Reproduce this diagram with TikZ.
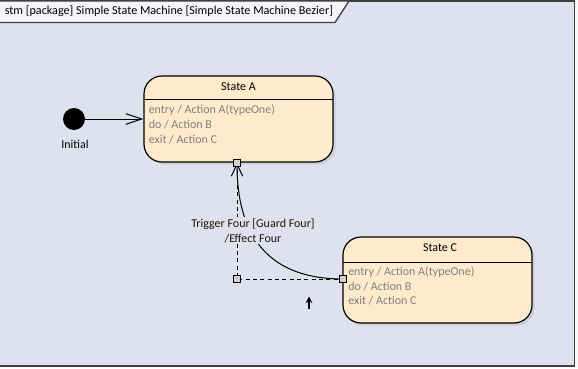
\documentclass[tikz,border=0pt]{standalone}
\usepackage{fontspec}
\setmainfont{Carlito}
\usetikzlibrary{arrows.meta,shadows}
\definecolor{bgc}{RGB}{223,226,238}
\definecolor{tabc}{RGB}{246,244,249}
\definecolor{statec}{RGB}{255,235,203}
\definecolor{graytext}{RGB}{128,128,128}
\definecolor{framec}{RGB}{64,64,64}
\definecolor{portc}{RGB}{208,208,208}
\tikzset{
  statebox/.style={draw=black, line width=0.9pt, fill=statec, rounded corners=13.5pt,
    minimum width=141.75pt, minimum height=64.5pt, inner sep=0pt,
    drop shadow={shadow xshift=2pt, shadow yshift=-2pt, opacity=0.25, fill=black!40}},
  hdr/.style={font=\fontsize{9}{11}\selectfont, text=black, inner sep=0pt},
  body/.style={font=\fontsize{9}{11}\selectfont, text=graytext, inner sep=0pt, anchor=west},
  port/.style={draw=black, fill=portc, line width=0.6pt, minimum size=5.5pt, inner sep=0pt},
  conn/.style={draw=black, line width=0.75pt},
  handle/.style={draw=black, line width=0.6pt, dash pattern=on 3pt off 2.5pt},
}
\begin{document}
\begin{tikzpicture}[x=0.75pt,y=-0.75pt]
\useasboundingbox (0,0) rectangle (578,368);
% outside area and frame
\fill[white!95!gray] (0,0) rectangle (578,368);
\draw[framec, line width=1.2pt, fill=bgc] (-2,1) rectangle (574.5,366);
% title tab
\draw[framec, line width=1pt, fill=tabc] (-2,1) -- (349,1) -- (335,22.5) -- (-2,22.5) -- cycle;
\node[anchor=west, font=\fontsize{9.1}{11}\selectfont, inner sep=0pt] (title) at (4.5,11.5) {stm [package] Simple State Machine [Simple State Machine Bezier]};
% initial
\node[circle, fill=black, minimum size=16.5pt, inner sep=0pt] (init) at (74,119) {};
\node[font=\fontsize{9}{11}\selectfont, inner sep=0pt] (initlbl) at (75,144) {Initial};
% State A
\node[statebox] (A) at (238.5,119) {};
\draw[black, line width=0.75pt] (144,99) -- (333,99);
\node[hdr] (Ah) at (238.5,87) {State A};
\node[body] (A1) at (148.5,110) {entry / Action A(typeOne)};
\node[body] (A2) at (148.5,125) {do / Action B};
\node[body] (A3) at (148.5,140) {exit / Action C};
% State C
\node[statebox] (C) at (437.5,280) {};
\draw[black, line width=0.75pt] (343,262) -- (532,262);
\node[hdr] (Ch) at (440,248) {State C};
\node[body] (C1) at (348,272) {entry / Action A(typeOne)};
\node[body] (C2) at (348,287) {do / Action B};
\node[body] (C3) at (348,301) {exit / Action C};
% initial transition
\draw[conn, -{Straight Barb[length=12pt,width=8pt,line width=0.75pt]}] (init) -- (A.west |- init);
% ports
\coordinate (pA) at (237,163);
\coordinate (pH) at (237,279);
\coordinate (pC) at (343,279);
% control handles
\draw[handle] (pA) -- (pH) -- (pC);
% transition curve
\draw[conn, -{Straight Barb[length=9pt,width=8.5pt,line width=0.75pt]}] (pC) .. controls (272.3,279) and (237,240.3) .. (pA);
\node[port] (qA) at (pA) {};
\node[port] (qH) at (pH) {};
\node[port] (qC) at (pC) {};
% label
\node[fill=bgc, align=center, font=\fontsize{9}{11.25}\selectfont, inner sep=1pt, text=black!85!brown] (lbl) at (253,230.5) {Trigger Four [Guard Four]\\/Effect Four};
% cursor
\coordinate (cur1) at (309,309);
\coordinate (cur2) at (309,296.5);
\draw[black, line width=0.9pt, -{Stealth[length=5pt,width=5pt]}] (cur1) -- (cur2);
\end{tikzpicture}
\end{document}
